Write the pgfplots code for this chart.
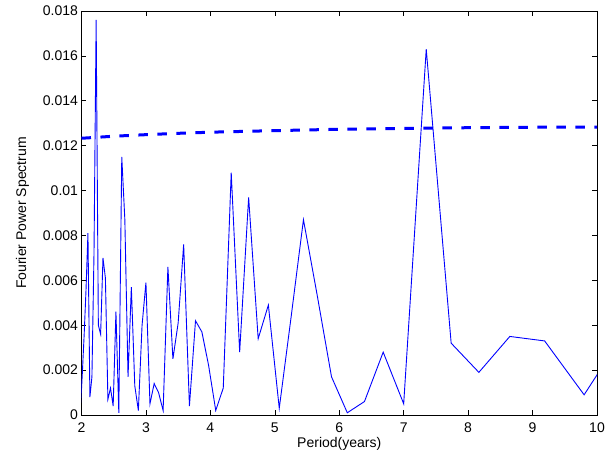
\documentclass[border=0pt]{standalone}
\usepackage{pgfplots}
\pgfplotsset{compat=1.18}
\usepackage{fontspec}
\setmainfont{Liberation Sans}
\newcommand{\chartfont}{\fontsize{14bp}{16bp}\selectfont}
\begin{document}
\begin{tikzpicture}[font=\chartfont]
\begin{axis}[
  scale only axis,
  width=515.5bp, height=404bp,
  xmin=2, xmax=10, ymin=0, ymax=0.018,
  xtick={2,3,...,10},
  ytick={0,0.002,...,0.0181},
  scaled y ticks=false,
  /pgf/number format/assume math mode=true,
  tick label style={font=\chartfont},
  label style={font=\chartfont},
  yticklabel style={/pgf/number format/fixed, /pgf/number format/precision=3},
  xticklabel style={yshift=-4bp},
  tick align=inside,
  major tick length=5bp,
  tick style={black, line width=0.6bp},
  axis line style={black, line width=0.8bp},
  xlabel={Period(years)},
  ylabel={Fourier Power Spectrum},
  xlabel style={at={(axis description cs:0.5,0)}, anchor=center, yshift=-29bp},
  ylabel style={at={(axis description cs:0,0.5)}, anchor=center, rotate=0, yshift=59bp},
  clip=true,
]
\addplot[blue, line width=0.9bp] coordinates {
(1.9865,0.0004) (2.0137,0.0019) (2.0417,0.0036) (2.0704,0.0056) (2.1000,0.0081)
(2.1304,0.0008) (2.1618,0.0017) (2.1940,0.0072) (2.2273,0.0176) (2.2615,0.0040)
(2.2969,0.0036) (2.3333,0.0070) (2.3710,0.0061) (2.4098,0.0007) (2.4500,0.0012)
(2.4915,0.0004) (2.5345,0.0046) (2.5789,0.0001) (2.6250,0.0115) (2.6727,0.0087)
(2.7222,0.0017) (2.7736,0.0057) (2.8269,0.0013) (2.8824,0.0002) (2.9400,0.0040)
(3.0000,0.0059) (3.0625,0.0005) (3.1277,0.0014) (3.1957,0.0010) (3.2667,0.0002)
(3.3409,0.0066) (3.4186,0.0025) (3.5000,0.0041) (3.5854,0.0076) (3.6750,0.0004)
(3.7692,0.0042) (3.8684,0.0037) (3.9730,0.0022) (4.0833,0.0002) (4.2000,0.0012)
(4.3235,0.0108) (4.4545,0.0028) (4.5938,0.0097) (4.7419,0.0034) (4.9000,0.0049)
(5.0690,0.0003) (5.2500,0.0043) (5.4444,0.0087) (5.6538,0.0054) (5.8800,0.0017)
(6.1250,0.0001) (6.3913,0.0006) (6.6818,0.0028) (7.0000,0.0005) (7.3500,0.0163)
(7.7368,0.0032) (8.1667,0.0019) (8.6471,0.0035) (9.1875,0.0033) (9.8000,0.0009)
(10.5000,0.0040)
};
\addplot[blue, line width=3bp, dash pattern=on 9.5bp off 9.5bp] coordinates {
(2,0.01233) (2.5,0.01242) (3,0.01249) (3.5,0.01255) (4,0.01260) (5,0.01267)
(6,0.01273) (7,0.01277) (8,0.01280) (9,0.01282) (10,0.01283)
};
\end{axis}
\path (current axis.south west) ++(-81.5bp,-47bp) coordinate (bbA);
\path (current axis.north east) ++(17bp,11bp) coordinate (bbB);
\pgfresetboundingbox
\path[use as bounding box] (bbA) rectangle (bbB);
\end{tikzpicture}
\end{document}
